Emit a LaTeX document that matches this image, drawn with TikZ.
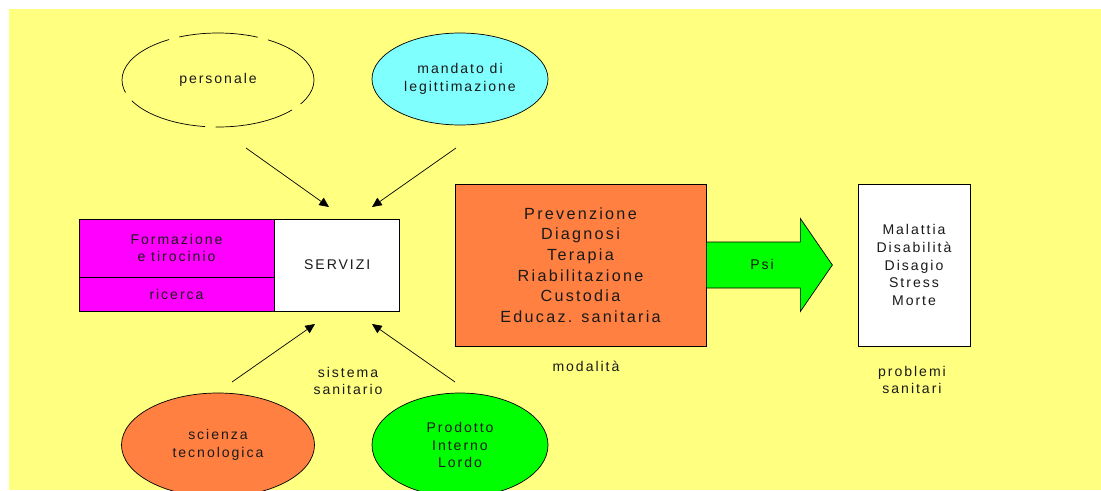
\documentclass[tikz,border=0pt]{standalone}
\usepackage{fontspec}
\setmainfont[LetterSpace=14]{Liberation Sans}
\usepackage{tikz}
\usetikzlibrary{positioning, arrows.meta, shapes.geometric}
\definecolor{sfondo}{HTML}{FFFF80}
\definecolor{ciano}{HTML}{80FFFF}
\definecolor{arancio}{HTML}{FF8040}
\definecolor{verde}{HTML}{00FF00}
\definecolor{fucsia}{HTML}{FF00FF}
\definecolor{scritta}{HTML}{1A1A1A}
\newcommand{\piccolo}{\fontsize{8}{10.2}\selectfont}
\newcommand{\medio}{\fontsize{9.2}{11.7}\selectfont}
\tikzstyle{fattore} = [ellipse, thin, draw=black, text=scritta, align=center, font=\piccolo, minimum width=3.52cm, minimum height=1.9cm]
\tikzstyle{blocco} = [rectangle, thin, draw=black, text=scritta, align=center, font=\piccolo, inner sep=0pt]
\tikzstyle{didascalia} = [text=scritta, align=center, font=\piccolo]
\tikzstyle{freccia} = [thin, -{Triangle[length=5.5pt,width=5pt]}]

\begin{document}
\begin{tikzpicture}
    \useasboundingbox (0,0) rectangle (22.02,9.80);
    \fill [sfondo] (0.18,0) rectangle (22.02,9.62);
    \node (pers) [fattore, dash pattern=on 45pt off 6pt, dash phase=8pt, minimum width=3.84cm, minimum height=1.88cm] at (4.36,8.20) {personale};
    \node (mand) [fattore, fill=ciano, minimum height=1.84cm] at (9.20,8.22) {mandato di\\legittimazione};
    \node (form) [blocco, fill=fucsia, minimum width=3.90cm, minimum height=1.16cm] at (3.53,4.84) {Formazione\\e tirocinio};
    \node (ric) [blocco, fill=fucsia, below=0pt of form, minimum width=3.90cm, minimum height=0.68cm] {ricerca};
    \node (serv) [blocco, fill=white, anchor=north west, minimum width=2.50cm, minimum height=1.84cm] at (form.north east) {SERVIZI};
    \node (sist) [didascalia] at (6.96,2.18) {sistema\\sanitario};
    \node (sci) [fattore, fill=arancio, minimum width=3.86cm, minimum height=2.08cm] at (4.36,0.90) {scienza\\tecnologica};
    \node (pil) [fattore, fill=verde, minimum height=2.08cm] at (9.20,0.90) {Prodotto\\Interno\\Lordo};
    \node (cura) [blocco, fill=arancio, font=\medio, minimum width=5.02cm, minimum height=3.24cm] at (11.61,4.50)
      {Prevenzione\\Diagnosi\\Terapia\\Riabilitazione\\Custodia\\Educaz. sanitaria};
    \node (modal) [didascalia] at (11.72,2.48) {modalità};
    \node (prob) [blocco, fill=white, minimum width=2.24cm, minimum height=3.24cm] at (18.28,4.50)
      {Malattia\\Disabilità\\Disagio\\Stress\\Morte};
    \node (sanit) [didascalia] at (18.24,2.20) {problemi\\sanitari};
    \draw [thin, fill=verde] ([yshift=0.46cm]cura.east) -- ++(1.88,0) -- ++(0,0.47) -- ++(0.64,-0.93)
      -- ++(-0.64,-0.93) -- ++(0,0.47) -- ([yshift=-0.46cm]cura.east) -- cycle;
    \node (psi) [didascalia] at (15.24,4.52) {Psi};
    \coordinate (p1) at (4.92,6.84);
    \coordinate (p2) at (9.12,6.84);
    \coordinate (p3) at (4.64,2.16);
    \coordinate (p4) at (9.10,2.16);
    \coordinate (s1) at (6.58,5.66);
    \coordinate (s2) at (7.44,5.66);
    \coordinate (s3) at (6.30,3.32);
    \coordinate (s4) at (7.44,3.32);
    \draw [freccia] (p1) -- (s1);
    \draw [freccia] (p2) -- (s2);
    \draw [freccia] (p3) -- (s3);
    \draw [freccia] (p4) -- (s4);
\end{tikzpicture}
\end{document}
